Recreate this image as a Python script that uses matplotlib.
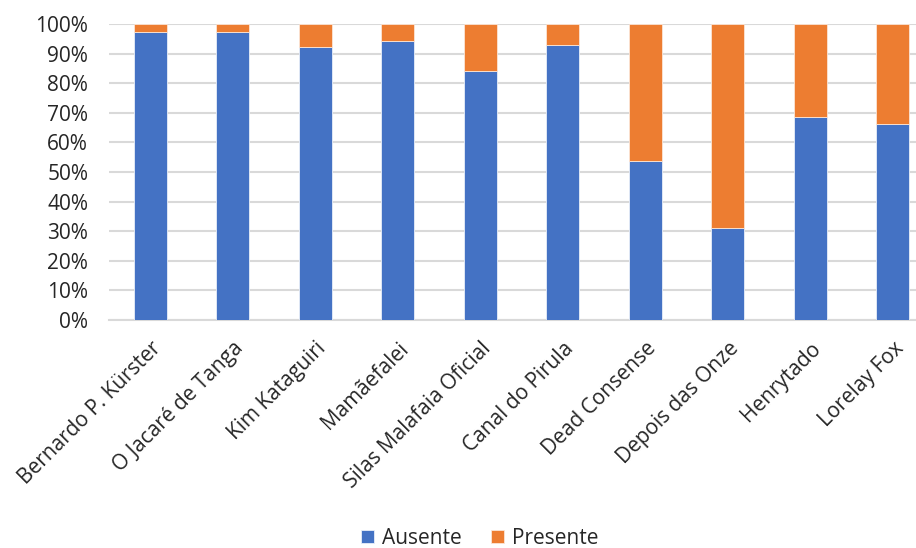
import numpy as np
import matplotlib.pyplot as plt
from matplotlib.ticker import PercentFormatter

canais = ['Bernardo P. Kürster', 'O Jacaré de Tanga', 'Kim Kataguiri', 'Mamãefalei',
          'Silas Malafaia Oficial', 'Canal do Pirula', 'Dead Consense',
          'Depois das Onze', 'Henrytado', 'Lorelay Fox']
ausente = [97.4, 97.4, 92.1, 94.4, 84.1, 93.0, 53.7, 31.1, 68.5, 66.2]
presente = [100 - v for v in ausente]

azul = '#4472C4'
laranja = '#ED7D31'

plt.rcParams['font.family'] = ['Open Sans', 'DejaVu Sans']

fig = plt.figure(figsize=(9.16, 5.48), dpi=100)
ax = fig.add_axes([109/916, 1 - 320/548, (916 - 109)/916, (320 - 24)/548])

x = np.arange(len(canais))
ax.bar(x, ausente, width=0.4, color=azul, edgecolor='#E8EEF8', linewidth=0.6,
       label='Ausente', zorder=3)
ax.bar(x, presente, width=0.4, bottom=ausente, color=laranja, edgecolor='#FBE5D6',
       linewidth=0.6, label='Presente', zorder=3)

ax.set_xlim(-0.5, 9.28)
ax.set_ylim(0, 100)
ax.set_yticks(np.arange(0, 101, 10))
ax.yaxis.set_major_formatter(PercentFormatter(decimals=0))
ax.grid(axis='y', color='#D9D9D9', linewidth=1.5, zorder=0)
for s in ['top', 'right', 'left']:
    ax.spines[s].set_visible(False)
ax.spines['bottom'].set_color('#D9D9D9')
ax.spines['bottom'].set_linewidth(1.5)
ax.tick_params(axis='both', length=0, labelsize=15, colors='#262626')
ax.tick_params(axis='y', pad=15)
ax.tick_params(axis='x', pad=13)
ax.set_xticks(x)
ax.set_xticklabels(canais, rotation=45, ha='right', rotation_mode='anchor')

fig.legend(loc='center', bbox_to_anchor=(480/916, 1 - 538/548), ncol=2, frameon=False,
           fontsize=15, handlelength=0.6, handleheight=0.6, columnspacing=1.4,
           handletextpad=0.4, labelcolor='#262626')

fig.savefig('out.png', dpi=100)
